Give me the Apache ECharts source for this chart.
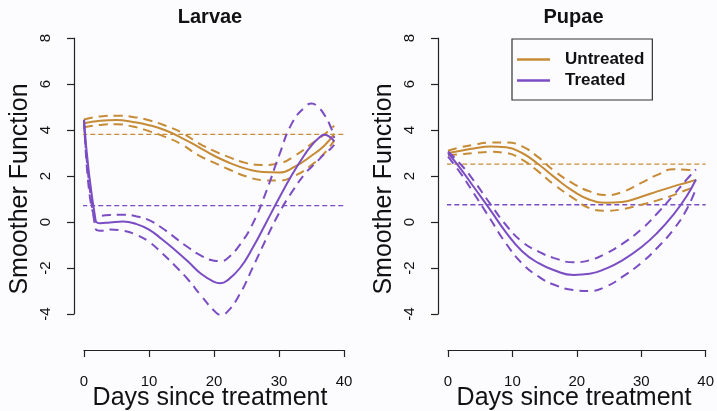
<!DOCTYPE html>
<html>
<head>
<meta charset="utf-8">
<script src="https://cdn.jsdelivr.net/npm/echarts@6/dist/echarts.min.js"></script>
<style>
html,body{margin:0;padding:0;background:#fcfcff;}
#chart{width:717px;height:411px;}
</style>
</head>
<body>
<div id="chart"></div>
<script>
// ---------- data ----------
const panelTitles = ['Larvae', 'Pupae'];
const legendNames = ['Untreated', 'Treated'];
const xTickMin = 0, xTickMax = 40, xTickStep = 10;
const yTickMin = -4, yTickMax = 8, yTickStep = 2;
const refLineDays = [-1.5, 40];

// Larvae - untreated
const larvaeUntreatedDays = [0, 2.5, 5, 7.5, 10, 12.5, 15, 17.5, 20, 22.5, 25, 27.5, 30, 32.5, 35, 37, 38.5];
const larvaeUntreatedFit = [4.29, 4.40, 4.43, 4.35, 4.21, 3.99, 3.66, 3.28, 2.88, 2.56, 2.31, 2.17, 2.15, 2.42, 2.88, 3.33, 3.83];
const larvaeUntreatedUpper = [4.46, 4.59, 4.62, 4.57, 4.42, 4.19, 3.89, 3.45, 3.09, 2.80, 2.56, 2.48, 2.55, 2.89, 3.40, 3.82, 4.18];
const larvaeUntreatedLower = [4.12, 4.22, 4.25, 4.15, 3.95, 3.70, 3.38, 2.92, 2.58, 2.26, 1.98, 1.82, 1.80, 2.02, 2.48, 3.00, 3.55];
const larvaeUntreatedMean = 3.81;

// Larvae - treated
const larvaeTreatedDays = [0, 1.8, 2.5, 4, 6, 8, 10, 12, 14, 16, 18, 20, 21, 22, 24, 26, 28, 30, 32, 34, 35, 36, 37, 38, 38.5];
const larvaeTreatedFit = [4.43, 0.05, -0.05, -0.02, 0.02, -0.08, -0.33, -0.75, -1.22, -1.72, -2.25, -2.6, -2.66, -2.55, -2.0, -1.1, -0.04, 1.03, 2.05, 2.95, 3.32, 3.62, 3.79, 3.66, 3.5];
const larvaeTreatedUpper = [4.45, 0.22, 0.26, 0.3, 0.32, 0.25, 0.08, -0.26, -0.68, -1.1, -1.46, -1.68, -1.7, -1.6, -0.98, -0.05, 1.3, 2.88, 4.3, 5.0, 5.15, 5.0, 4.65, 4.1, 3.65];
const larvaeTreatedLower = [4.25, -0.3, -0.38, -0.33, -0.38, -0.55, -0.86, -1.35, -1.9, -2.5, -3.2, -3.85, -4.03, -3.92, -3.12, -1.95, -0.75, 0.38, 1.31, 2.1, 2.39, 2.67, 2.96, 3.2, 3.35];
const larvaeTreatedMean = 0.71;

// Pupae
const pupaeDays = [0, 2, 4, 6.5, 9, 11.5, 14, 16.5, 19.5, 22, 24.5, 27, 30, 32.5, 35, 37, 38.5];
const pupaeUntreatedFit = [3.0, 3.1, 3.2, 3.28, 3.25, 3.0, 2.52, 1.95, 1.33, 0.97, 0.84, 0.87, 1.1, 1.33, 1.55, 1.71, 1.83];
const pupaeUntreatedUpper = [3.1, 3.25, 3.36, 3.45, 3.46, 3.29, 2.82, 2.22, 1.66, 1.33, 1.17, 1.3, 1.7, 2.05, 2.29, 2.27, 2.23];
const pupaeUntreatedLower = [2.9, 2.95, 3.0, 3.05, 3.0, 2.71, 2.2, 1.62, 1.03, 0.6, 0.49, 0.55, 0.75, 0.94, 1.17, 1.39, 1.54];
const pupaeUntreatedMean = 2.52;
const pupaeTreatedFit = [3.0, 2.3, 1.52, 0.55, -0.45, -1.27, -1.78, -2.1, -2.3, -2.25, -2.03, -1.68, -1.1, -0.47, 0.32, 1.1, 1.85];
const pupaeTreatedUpper = [3.06, 2.5, 1.8, 0.81, -0.13, -0.86, -1.28, -1.57, -1.75, -1.66, -1.37, -0.96, -0.32, 0.38, 1.17, 1.83, 2.29];
const pupaeTreatedLower = [2.84, 2.1, 1.25, 0.16, -0.93, -1.8, -2.36, -2.73, -2.96, -3.0, -2.81, -2.4, -1.78, -1.12, -0.33, 0.52, 1.45];
const pupaeTreatedMean = 0.75;

// ---------- styling ----------
const ORANGE = '#C68B35';
const PURPLE = '#7B4DC3';
const FONT = '"Liberation Sans", Arial, Helvetica, sans-serif';
const AXIS_COLOR = '#222';

const zip = (xs, ys) => xs.map((x, i) => [x, ys[i]]);

function curve(name, xs, ys, color, dashed, idx) {
  return {
    name: name, type: 'line', xAxisIndex: idx, yAxisIndex: idx,
    data: zip(xs, ys), symbol: 'none', showSymbol: false,
    smooth: 0.5, clip: false, silent: true,
    lineStyle: { color: color, width: 2, type: dashed ? [9, 6] : 'solid' },
    itemStyle: { color: color },
    z: color === PURPLE ? 3 : 2
  };
}
function refLine(name, v, color, idx) {
  return {
    name: name, type: 'line', xAxisIndex: idx, yAxisIndex: idx,
    data: refLineDays.map(d => [d, v]), symbol: 'none', showSymbol: false,
    clip: false, silent: true,
    lineStyle: { color: color, width: 1.3, type: [5, 3] },
    z: 1
  };
}

const gridLefts = [84, 448];
const grids = gridLefts.map(l => ({ left: l, width: 260, top: 38, height: 276 }));

const xAxes = gridLefts.map((l, i) => ({
  gridIndex: i, type: 'value', min: xTickMin, max: xTickMax, interval: xTickStep,
  offset: 36,
  axisLine: { show: true, onZero: false, lineStyle: { color: AXIS_COLOR, width: 1.2 } },
  axisTick: { show: true, length: 7, lineStyle: { color: AXIS_COLOR, width: 1.2 } },
  axisLabel: { margin: 24, fontSize: 15, color: '#111', fontFamily: FONT },
  splitLine: { show: false }
}));
const yAxes = gridLefts.map((l, i) => ({
  gridIndex: i, type: 'value', min: yTickMin, max: yTickMax, interval: yTickStep,
  offset: 10,
  axisLine: { show: true, onZero: false, lineStyle: { color: AXIS_COLOR, width: 1.2 } },
  axisTick: { show: true, length: 7, lineStyle: { color: AXIS_COLOR, width: 1.2 } },
  axisLabel: { margin: 21, rotate: 90, fontSize: 15, color: '#111', fontFamily: FONT },
  splitLine: { show: false }
}));

const series = [
  refLine('ref-u-l', larvaeUntreatedMean, ORANGE, 0),
  refLine('ref-t-l', larvaeTreatedMean, PURPLE, 0),
  curve('Untreated', larvaeUntreatedDays, larvaeUntreatedFit, ORANGE, false, 0),
  curve('u-upper-l', larvaeUntreatedDays, larvaeUntreatedUpper, ORANGE, true, 0),
  curve('u-lower-l', larvaeUntreatedDays, larvaeUntreatedLower, ORANGE, true, 0),
  curve('Treated', larvaeTreatedDays, larvaeTreatedFit, PURPLE, false, 0),
  curve('t-upper-l', larvaeTreatedDays, larvaeTreatedUpper, PURPLE, true, 0),
  curve('t-lower-l', larvaeTreatedDays, larvaeTreatedLower, PURPLE, true, 0),

  refLine('ref-u-p', pupaeUntreatedMean, ORANGE, 1),
  refLine('ref-t-p', pupaeTreatedMean, PURPLE, 1),
  curve('Untreated', pupaeDays, pupaeUntreatedFit, ORANGE, false, 1),
  curve('u-upper-p', pupaeDays, pupaeUntreatedUpper, ORANGE, true, 1),
  curve('u-lower-p', pupaeDays, pupaeUntreatedLower, ORANGE, true, 1),
  curve('Treated', pupaeDays, pupaeTreatedFit, PURPLE, false, 1),
  curve('t-upper-p', pupaeDays, pupaeTreatedUpper, PURPLE, true, 1),
  curve('t-lower-p', pupaeDays, pupaeTreatedLower, PURPLE, true, 1)
];

function txt(text, x, y, size, bold, rot) {
  return {
    type: 'text', x: x, y: y, rotation: rot || 0, silent: true,
    style: {
      text: text, fill: '#111', align: 'center', verticalAlign: 'middle',
      fontSize: size, fontWeight: bold ? 'bold' : 'normal', fontFamily: FONT
    }
  };
}

const option = {
  animation: false,
  backgroundColor: '#fcfcff',
  grid: grids,
  xAxis: xAxes,
  yAxis: yAxes,
  legend: {
    data: legendNames.map(n => ({ name: n, icon: 'rect' })),
    orient: 'vertical', left: 512, top: 39,
    padding: [12, 8, 11, 5], itemGap: 4, itemWidth: 33, itemHeight: 2.5,
    borderColor: '#333', borderWidth: 1.2,
    selectedMode: false,
    textStyle: { fontSize: 17, fontWeight: 'bold', color: '#111', fontFamily: FONT, padding: [0, 0, 0, 10] }
  },
  graphic: [
    txt(panelTitles[0], 210, 17, 20, true),
    txt(panelTitles[1], 573.5, 17, 20, true),
    txt('Days since treatment', 210, 398, 25, false),
    txt('Days since treatment', 574, 398, 25, false),
    txt('Smoother Function', 20, 189, 25, false, Math.PI / 2),
    txt('Smoother Function', 384, 189, 25, false, Math.PI / 2)
  ],
  series: series
};

const chart = echarts.init(document.getElementById('chart'), null, { renderer: 'canvas' });
chart.setOption(option);
</script>
</body>
</html>
